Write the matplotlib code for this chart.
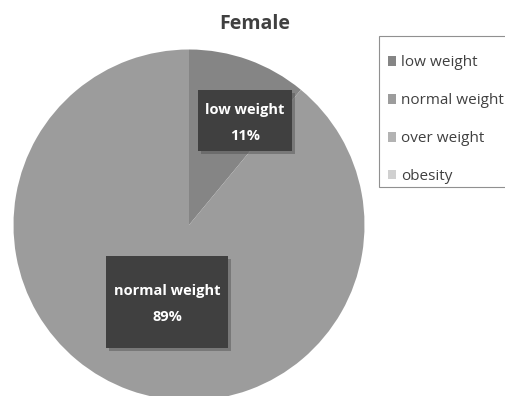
import matplotlib
matplotlib.use("Agg")
import matplotlib.pyplot as plt
from matplotlib.patches import Rectangle, Patch
import matplotlib.patheffects as pe

plt.rcParams['font.family'] = ['Open Sans', 'DejaVu Sans']

categories = ["low weight", "normal weight", "over weight", "obesity"]
shares = [11, 89, 0, 0]
colors = ["#858585", "#9c9c9c", "#b3b3b3", "#d0d0d0"]
title = "Female"

W, H = 505, 396
fig = plt.figure(figsize=(W / 100, H / 100), dpi=100)

# pie axes, square in pixels
cx, cy, r = 189, 225, 175.5
ax = fig.add_axes([(cx - r) / W, (H - cy - r) / H, 2 * r / W, 2 * r / H])
wedges, _ = ax.pie(shares, colors=colors, startangle=90, counterclock=False,
                   radius=1.0, wedgeprops=dict(linewidth=0))
ax.set_xlim(-1, 1)
ax.set_ylim(-1, 1)
ax.set_axis_off()

# data label boxes: (center x, center y, width, height) in axes data units
label_boxes = {
    0: (0.319, 0.593, 94 / r, 61 / r),
    1: (-0.125, -0.439, 122 / r, 92 / r),
}
shadow = [pe.SimplePatchShadow(offset=(2, -2), shadow_rgbFace="#555555", alpha=0.5), pe.Normal()]
for i, (bx, by, bw, bh) in label_boxes.items():
    rect = Rectangle((bx - bw / 2, by - bh / 2), bw, bh, facecolor="#404040",
                     edgecolor="none", zorder=3)
    rect.set_path_effects(shadow)
    ax.add_patch(rect)
    ax.text(bx, by + 11 / r, categories[i], color="white", fontsize=10.5,
            fontweight="bold", ha="center", va="center", zorder=4)
    ax.text(bx, by - 15 / r, f"{shares[i]}%", color="white", fontsize=10.5,
            fontweight="bold", ha="center", va="center", zorder=4)

fig.text(255 / W, 1 - 24 / H, title, fontsize=14, fontweight="bold",
         color="#404040", ha="center", va="center")

# legend frame
fig.add_artist(Rectangle((379 / W, 1 - 187 / H), 140 / W, 151 / H,
                         transform=fig.transFigure, facecolor="white",
                         edgecolor="#909090", linewidth=0.8))

handles = [Patch(facecolor=c, edgecolor="none") for c in colors]
leg = fig.legend(handles, categories, loc="upper left",
                 bbox_to_anchor=(388 / W, 1 - 55.5 / H), fontsize=11,
                 frameon=False, labelspacing=1.5,
                 handlelength=0.55, handleheight=0.55, handletextpad=0.3,
                 borderpad=0, borderaxespad=0)
for t in leg.get_texts():
    t.set_color("#404040")

fig.savefig("out.png", dpi=100)
